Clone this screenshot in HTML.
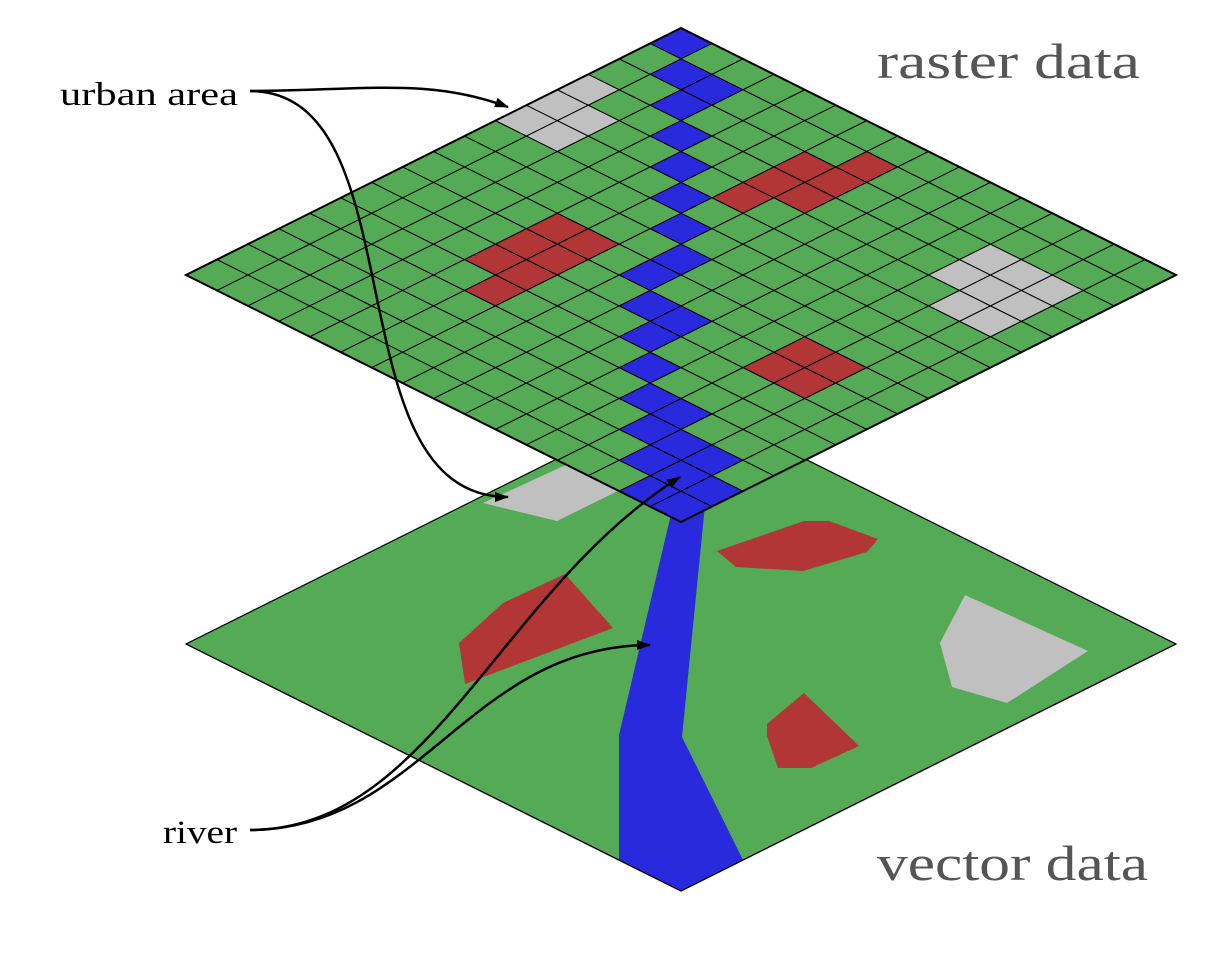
<!DOCTYPE html>
<html><head><meta charset="utf-8"><style>
html,body{margin:0;padding:0;background:#fff;}
svg{display:block;}
text{font-family:"Liberation Serif",serif;}
</style></head><body>
<svg id="s" width="1211" height="976" viewBox="0 0 1211 976" xmlns="http://www.w3.org/2000/svg">
<defs>
<marker id="ah" viewBox="0 0 14 10" refX="13" refY="5" markerWidth="14" markerHeight="10" markerUnits="userSpaceOnUse" orient="auto">
<path d="M0,0 L14,5 L0,10 Z" fill="#000"/>
</marker>
</defs>
<polygon points="681,397 1176,644 681,891 186,644" fill="#55aa55" stroke="#000" stroke-width="1.2"/>
<polygon points="483,503 570,463 620,490 557,521" fill="#c0c0c0"/>
<polygon points="672,510 705,505 682,737 743,860 681,891 619,860 619,735" fill="#2929dd"/>
<polygon points="565,574 613,628 465,684 459,643 503,603" fill="#b33636"/>
<polygon points="717,551 804,521 829,521 878,539 867,552 803,571 736,567" fill="#b33636"/>
<polygon points="804,693 859,746 811,768 778,768 767,736 767,724" fill="#b33636"/>
<polygon points="965,595 1088,651 1007,703 952,687 940,643" fill="#c0c0c0"/>
<path d="M186,644 L681,891 L1176,644" fill="none" stroke="#000" stroke-width="1.2"/>
<g id="grid"></g>
<g fill="none" stroke="#000" stroke-width="2.5">
<path d="M250,91 C 370,90 430,78 508,107" marker-end="url(#ah)"/>
<path d="M250,91 C 420,91 330,497 508,497" marker-end="url(#ah)"/>
<path d="M250,830 C 420,830 470,645 650,645" marker-end="url(#ah)"/>
<path d="M250,830 C 430,830 500,590 680,477" marker-end="url(#ah)"/>
</g>
<text x="60" y="105" font-size="33" fill="#000" textLength="178" lengthAdjust="spacingAndGlyphs">urban area</text>
<text x="163" y="843" font-size="33" fill="#000" textLength="74" lengthAdjust="spacingAndGlyphs">river</text>
<text x="877" y="78" font-size="50" fill="#555" textLength="263" lengthAdjust="spacingAndGlyphs">raster data</text>
<text x="877" y="880" font-size="50" fill="#555" textLength="271" lengthAdjust="spacingAndGlyphs">vector data</text>
</svg>
<script>
(function(){
var T=[681,28],u=[30.9375,15.4375],v=[-30.9375,15.4375];
function P(i,j){return [T[0]+i*u[0]+j*v[0],T[1]+i*u[1]+j*v[1]];}
var col={};
var blue=[[0,0],[1,1],[2,1],[2,2],[3,3],[4,4],[5,5],[6,6],[7,7],[7,8],[8,9],[9,9],[9,10],[10,11],[11,12],[12,12],[12,13],[13,13],[14,13],[13,14],[14,14],[15,14],[15,15],[14,15]];
var gray=[[0,3],[0,4],[1,4],[0,5],[1,5],[12,2],[12,3],[13,2],[13,3],[14,2],[13,4],[14,3],[14,4]];
var red=[[6,2],[7,1],[6,3],[7,2],[6,4],[7,3],[4,8],[4,9],[5,8],[4,10],[5,9],[5,10],[5,11],[12,8],[12,9],[13,8],[13,9]];
blue.forEach(function(c){col[c[0]+','+c[1]]='#2929dd';});
gray.forEach(function(c){col[c[0]+','+c[1]]='#c0c0c0';});
red.forEach(function(c){col[c[0]+','+c[1]]='#b33636';});
var h='';
for(var i=0;i<16;i++)for(var j=0;j<16;j++){
var a=P(i,j),b=P(i+1,j),c=P(i+1,j+1),d=P(i,j+1);
var f=col[i+','+j]||'#55aa55';
h+='<polygon points="'+a+' '+b+' '+c+' '+d+'" fill="'+f+'" stroke="'+f+'" stroke-width="0.5"/>';
}
for(var k=1;k<16;k++){
var a=P(0,k),b=P(16,k);h+='<line x1="'+a[0]+'" y1="'+a[1]+'" x2="'+b[0]+'" y2="'+b[1]+'" stroke="#000" stroke-width="1.1"/>';
a=P(k,0);b=P(k,16);h+='<line x1="'+a[0]+'" y1="'+a[1]+'" x2="'+b[0]+'" y2="'+b[1]+'" stroke="#000" stroke-width="1.1"/>';
}
var A=P(0,0),B=P(16,0),C=P(16,16),D=P(0,16);
h+='<polygon points="'+A+' '+B+' '+C+' '+D+'" fill="none" stroke="#000" stroke-width="2"/>';
document.getElementById('grid').innerHTML=h;
})();
</script>
</body></html>
